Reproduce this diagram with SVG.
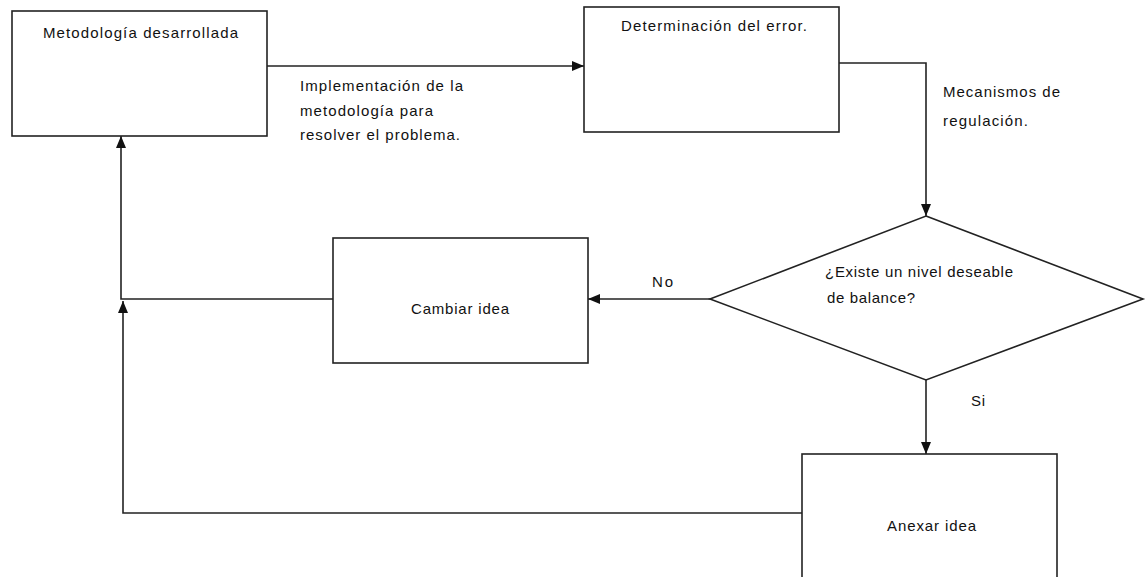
<svg xmlns="http://www.w3.org/2000/svg" width="1147" height="577" viewBox="0 0 1147 577">
<defs>
<marker id="arr" markerUnits="userSpaceOnUse" markerWidth="13" markerHeight="12" refX="12" refY="6" orient="auto">
<path d="M0,1 L12,6 L0,11 z" fill="#111"/>
</marker>
<style>
.box{fill:#fff;stroke:#222;stroke-width:1.6}
.con{fill:none;stroke:#222;stroke-width:1.6}
text{font-family:"Liberation Sans",Arial,sans-serif;font-size:15px;fill:#111}
</style>
</defs>
<rect width="1147" height="577" fill="#fff"/>
<g id="connectors">
<path class="con" d="M267,66 H584" marker-end="url(#arr)"/>
<path class="con" d="M839,63 H926 V216" marker-end="url(#arr)"/>
<path class="con" d="M710,299 H588" marker-end="url(#arr)"/>
<path class="con" d="M333,299 H121 V136" marker-end="url(#arr)"/>
<path class="con" d="M926,380 V454" marker-end="url(#arr)"/>
<path class="con" d="M802,513 H123 V301" marker-end="url(#arr)"/>
<text x="300" y="91" textLength="163" lengthAdjust="spacing">Implementación de la</text>
<text x="300" y="116" textLength="133" lengthAdjust="spacing">metodología para</text>
<text x="300" y="140" textLength="160" lengthAdjust="spacing">resolver el problema.</text>
<text x="943" y="97" textLength="117" lengthAdjust="spacing">Mecanismos de</text>
<text x="943" y="126" textLength="85" lengthAdjust="spacing">regulación.</text>
<text x="652" y="287" textLength="21" lengthAdjust="spacing">No</text>
<text x="971" y="406" textLength="14" lengthAdjust="spacing">Si</text>
</g>
<g id="metodologia">
<rect class="box" x="12" y="11" width="255" height="125"/>
<text x="43" y="38" textLength="195" lengthAdjust="spacing">Metodología desarrollada</text>
</g>
<g id="determinacion">
<rect class="box" x="584" y="7" width="255" height="125"/>
<text x="621" y="31" textLength="186" lengthAdjust="spacing">Determinación del error.</text>
</g>
<g id="decision">
<polygon class="box" points="926,216 1143,299 926,380 710,299"/>
<text x="825" y="277" textLength="188" lengthAdjust="spacing">¿Existe un nivel deseable</text>
<text x="827" y="303" textLength="88" lengthAdjust="spacing">de balance?</text>
</g>
<g id="cambiar">
<rect class="box" x="333" y="238" width="255" height="125"/>
<text x="411" y="314" textLength="98" lengthAdjust="spacing">Cambiar idea</text>
</g>
<g id="anexar">
<rect class="box" x="802" y="454" width="255" height="130"/>
<text x="887" y="531" textLength="89" lengthAdjust="spacing">Anexar idea</text>
</g>
</svg>
